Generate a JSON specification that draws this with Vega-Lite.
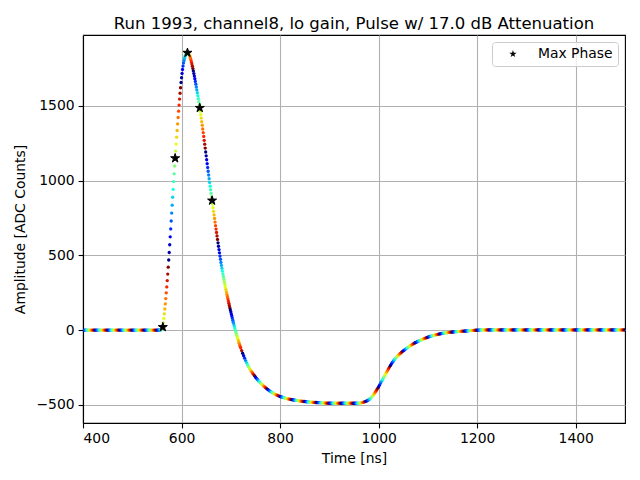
{
  "$schema": "https://vega.github.io/schema/vega-lite/v6.json",
  "width": 542,
  "height": 388,
  "autosize": {"type": "none"},
  "padding": {"left": 83, "top": 35, "right": 15, "bottom": 57},
  "title": {
    "text": "Run 1993, channel8, lo gain, Pulse w/ 17.0 dB Attenuation",
    "font": "DejaVu Sans", "fontSize": 16.5, "fontWeight": "normal", "color": "black",
    "anchor": "middle", "frame": "group", "baseline": "bottom", "offset": 5, "dy": 18
  },
  "config": {
    "font": "DejaVu Sans",
    "view": {"stroke": "black", "strokeWidth": 1.1},
    "axis": {
      "grid": true, "gridColor": "#b0b0b0", "gridWidth": 1.1, "gridOpacity": 1,
      "domainColor": "black", "domainWidth": 1.1,
      "tickColor": "black", "tickWidth": 1.1, "tickSize": 4.9,
      "labelFont": "DejaVu Sans", "labelFontSize": 13.9, "labelColor": "black", "labelPadding": 4,
      "titleFont": "DejaVu Sans", "titleFontSize": 13.9, "titleFontWeight": "normal", "titleColor": "black"
    }
  },
  "encoding": {
    "x": {"field": "t", "type": "quantitative", "title": "Time [ns]",
          "scale": {"domain": [400, 1500], "nice": false, "zero": false},
          "axis": {"values": [400, 600, 800, 1000, 1200, 1400], "format": "d", "titlePadding": 6}},
    "y": {"field": "a", "type": "quantitative", "title": "Amplitude [ADC Counts]",
          "scale": {"domain": [-622, 1975], "nice": false, "zero": false},
          "axis": {"values": [-500, 0, 500, 1000, 1500], "format": "d", "titlePadding": 8}}
  },
  "layer": [
    {
      "data": {"values": [
{"t":400,"a":0,"p":1},{"t":402,"a":0,"p":3},{"t":404,"a":0,"p":5},{"t":406,"a":0,"p":7},{"t":408,"a":0,"p":9},{"t":410,"a":0,"p":11},{"t":412,"a":0,"p":13},{"t":414,"a":0,"p":15},{"t":416,"a":0,"p":17},{"t":418,"a":0,"p":19},{"t":420,"a":0,"p":21},{"t":422,"a":0,"p":23},{"t":424,"a":0,"p":0},{"t":426,"a":0,"p":2},{"t":428,"a":0,"p":4},{"t":430,"a":0,"p":6},{"t":432,"a":0,"p":8},{"t":434,"a":0,"p":10},{"t":436,"a":0,"p":12},{"t":438,"a":0,"p":14},{"t":440,"a":0,"p":16},{"t":442,"a":0,"p":18},{"t":444,"a":0,"p":20},{"t":446,"a":0,"p":22},{"t":448,"a":0,"p":24},
{"t":450,"a":0,"p":1},{"t":452,"a":0,"p":3},{"t":454,"a":0,"p":5},{"t":456,"a":0,"p":7},{"t":458,"a":0,"p":9},{"t":460,"a":0,"p":11},{"t":462,"a":0,"p":13},{"t":464,"a":0,"p":15},{"t":466,"a":0,"p":17},{"t":468,"a":0,"p":19},{"t":470,"a":0,"p":21},{"t":472,"a":0,"p":23},{"t":474,"a":0,"p":0},{"t":476,"a":0,"p":2},{"t":478,"a":0,"p":4},{"t":480,"a":0,"p":6},{"t":482,"a":0,"p":8},{"t":484,"a":0,"p":10},{"t":486,"a":0,"p":12},{"t":488,"a":0,"p":14},{"t":490,"a":0,"p":16},{"t":492,"a":0,"p":18},{"t":494,"a":0,"p":20},{"t":496,"a":0,"p":22},{"t":498,"a":0,"p":24},
{"t":500,"a":0,"p":1},{"t":502,"a":0,"p":3},{"t":504,"a":0,"p":5},{"t":506,"a":0,"p":7},{"t":508,"a":0,"p":9},{"t":510,"a":0,"p":11},{"t":512,"a":0,"p":13},{"t":514,"a":0,"p":15},{"t":516,"a":0,"p":17},{"t":518,"a":0,"p":19},{"t":520,"a":0,"p":21},{"t":522,"a":0,"p":23},{"t":524,"a":0,"p":0},{"t":526,"a":0,"p":2},{"t":528,"a":0,"p":4},{"t":530,"a":0,"p":6},{"t":532,"a":0,"p":8},{"t":534,"a":0,"p":10},{"t":536,"a":0,"p":12},{"t":538,"a":0,"p":14},{"t":540,"a":0,"p":16},{"t":542,"a":0,"p":18},{"t":544,"a":0,"p":20},{"t":546,"a":0,"p":22},{"t":548,"a":0,"p":24},
{"t":550,"a":0,"p":1},{"t":552,"a":0,"p":3},{"t":554,"a":0,"p":5},
{"t":555,"a":0,"p":6},{"t":556,"a":1,"p":7},{"t":557,"a":1,"p":8},{"t":558,"a":2,"p":9},{"t":559,"a":4,"p":10},{"t":560,"a":7,"p":11},{"t":561,"a":12,"p":12},{"t":562,"a":20,"p":13},{"t":563,"a":48,"p":14},{"t":564,"a":78,"p":15},{"t":565,"a":109,"p":16},{"t":566,"a":141,"p":17},{"t":567,"a":175,"p":18},{"t":568,"a":211,"p":19},{"t":569,"a":249,"p":20},{"t":570,"a":289,"p":21},{"t":571,"a":331,"p":22},{"t":572,"a":375,"p":23},{"t":573,"a":421,"p":24},
{"t":574,"a":469,"p":0},{"t":575,"a":519,"p":1},{"t":576,"a":571,"p":2},{"t":577,"a":624,"p":3},{"t":578,"a":677,"p":4},{"t":579,"a":730,"p":5},{"t":580,"a":783,"p":6},{"t":581,"a":836,"p":7},{"t":582,"a":889,"p":8},{"t":583,"a":942,"p":9},{"t":584,"a":994,"p":10},{"t":585,"a":1046,"p":11},{"t":586,"a":1098,"p":12},{"t":587,"a":1150,"p":13},{"t":588,"a":1198,"p":14},{"t":589,"a":1245,"p":15},{"t":590,"a":1291,"p":16},{"t":591,"a":1336,"p":17},{"t":592,"a":1380,"p":18},{"t":593,"a":1423,"p":19},{"t":594,"a":1465,"p":20},{"t":595,"a":1506,"p":21},{"t":596,"a":1546,"p":22},{"t":597,"a":1585,"p":23},{"t":598,"a":1622,"p":24},
{"t":599,"a":1657,"p":0},{"t":600,"a":1689,"p":1},{"t":601,"a":1718,"p":2},{"t":602,"a":1744,"p":3},{"t":603,"a":1767,"p":4},{"t":604,"a":1787,"p":5},{"t":605,"a":1804,"p":6},{"t":606,"a":1818,"p":7},{"t":607,"a":1830,"p":8},{"t":608,"a":1840,"p":9},{"t":609,"a":1847,"p":10},{"t":610,"a":1852,"p":11},{"t":611,"a":1855,"p":12},{"t":612,"a":1856,"p":13},{"t":613,"a":1855,"p":14},{"t":614,"a":1852,"p":15},{"t":615,"a":1847,"p":16},{"t":616,"a":1840,"p":17},{"t":617,"a":1831,"p":18},{"t":618,"a":1820,"p":19},{"t":619,"a":1808,"p":20},{"t":620,"a":1795,"p":21},{"t":621,"a":1781,"p":22},{"t":622,"a":1766,"p":23},{"t":623,"a":1750,"p":24},
{"t":624,"a":1734,"p":0},{"t":625,"a":1717,"p":1},{"t":626,"a":1700,"p":2},{"t":627,"a":1682,"p":3},{"t":628,"a":1664,"p":4},{"t":629,"a":1646,"p":5},{"t":630,"a":1627,"p":6},{"t":631,"a":1608,"p":7},{"t":632,"a":1589,"p":8},{"t":633,"a":1569,"p":9},{"t":634,"a":1549,"p":10},{"t":635,"a":1529,"p":11},{"t":636,"a":1508,"p":12},{"t":637,"a":1487,"p":13},{"t":638,"a":1465,"p":14},{"t":639,"a":1442,"p":15},{"t":640,"a":1419,"p":16},{"t":641,"a":1395,"p":17},{"t":642,"a":1371,"p":18},{"t":643,"a":1346,"p":19},{"t":644,"a":1321,"p":20},{"t":645,"a":1296,"p":21},{"t":646,"a":1270,"p":22},{"t":647,"a":1244,"p":23},{"t":648,"a":1218,"p":24},
{"t":649,"a":1192,"p":0},{"t":650,"a":1166,"p":1},{"t":651,"a":1140,"p":2},{"t":652,"a":1114,"p":3},{"t":653,"a":1088,"p":4},{"t":654,"a":1063,"p":5},{"t":655,"a":1038,"p":6},{"t":656,"a":1013,"p":7},{"t":657,"a":988,"p":8},{"t":658,"a":963,"p":9},{"t":659,"a":939,"p":10},{"t":660,"a":915,"p":11},{"t":661,"a":891,"p":12},{"t":662,"a":867,"p":13},{"t":663,"a":843,"p":14},{"t":664,"a":819,"p":15},{"t":665,"a":795,"p":16},{"t":666,"a":771,"p":17},{"t":667,"a":747,"p":18},{"t":668,"a":723,"p":19},{"t":669,"a":699,"p":20},{"t":670,"a":676,"p":21},{"t":671,"a":653,"p":22},{"t":672,"a":630,"p":23},{"t":673,"a":607,"p":24},
{"t":674,"a":584,"p":0},{"t":675,"a":561,"p":1},{"t":676,"a":539,"p":2},{"t":677,"a":517,"p":3},{"t":678,"a":495,"p":4},{"t":679,"a":474,"p":5},{"t":680,"a":453,"p":6},{"t":681,"a":433,"p":7},{"t":682,"a":413,"p":8},{"t":683,"a":394,"p":9},{"t":684,"a":375,"p":10},{"t":685,"a":357,"p":11},{"t":686,"a":339,"p":12},{"t":687,"a":322,"p":13},{"t":688,"a":305,"p":14},{"t":689,"a":288,"p":15},{"t":690,"a":272,"p":16},{"t":691,"a":256,"p":17},{"t":692,"a":240,"p":18},{"t":693,"a":225,"p":19},{"t":694,"a":210,"p":20},{"t":695,"a":195,"p":21},{"t":696,"a":180,"p":22},{"t":697,"a":165,"p":23},{"t":698,"a":150,"p":24},
{"t":699,"a":136,"p":0},{"t":700,"a":122,"p":1},{"t":701,"a":108,"p":2},{"t":702,"a":94,"p":3},{"t":703,"a":80,"p":4},{"t":704,"a":66,"p":5},{"t":705,"a":53,"p":6},{"t":706,"a":40,"p":7},{"t":707,"a":27,"p":8},{"t":708,"a":14,"p":9},{"t":709,"a":1,"p":10},{"t":710,"a":-11,"p":11},{"t":711,"a":-23,"p":12},{"t":712,"a":-34,"p":13},{"t":713,"a":-45,"p":14},{"t":714,"a":-56,"p":15},{"t":715,"a":-67,"p":16},{"t":716,"a":-78,"p":17},{"t":717,"a":-89,"p":18},{"t":718,"a":-99,"p":19},{"t":719,"a":-109,"p":20},{"t":720,"a":-119,"p":21},
{"t":722,"a":-137,"p":23},{"t":724,"a":-155,"p":0},{"t":726,"a":-172,"p":2},{"t":728,"a":-188,"p":4},{"t":730,"a":-204,"p":6},{"t":732,"a":-218,"p":8},{"t":734,"a":-232,"p":10},{"t":736,"a":-245,"p":12},{"t":738,"a":-257,"p":14},{"t":740,"a":-268,"p":16},{"t":742,"a":-278,"p":18},{"t":744,"a":-287,"p":20},{"t":746,"a":-296,"p":22},{"t":748,"a":-305,"p":24},
{"t":750,"a":-314,"p":1},{"t":752,"a":-323,"p":3},{"t":754,"a":-331,"p":5},{"t":756,"a":-339,"p":7},{"t":758,"a":-346,"p":9},{"t":760,"a":-353,"p":11},{"t":762,"a":-360,"p":13},{"t":764,"a":-366,"p":15},{"t":766,"a":-372,"p":17},{"t":768,"a":-378,"p":19},{"t":770,"a":-384,"p":21},{"t":772,"a":-390,"p":23},{"t":774,"a":-395,"p":0},{"t":776,"a":-400,"p":2},{"t":778,"a":-405,"p":4},{"t":780,"a":-410,"p":6},{"t":782,"a":-414,"p":8},{"t":784,"a":-418,"p":10},{"t":786,"a":-422,"p":12},{"t":788,"a":-426,"p":14},{"t":790,"a":-430,"p":16},{"t":792,"a":-433,"p":18},{"t":794,"a":-436,"p":20},{"t":796,"a":-439,"p":22},{"t":798,"a":-442,"p":24},
{"t":800,"a":-445,"p":1},{"t":802,"a":-447,"p":3},{"t":804,"a":-449,"p":5},{"t":806,"a":-451,"p":7},{"t":808,"a":-453,"p":9},{"t":810,"a":-455,"p":11},{"t":812,"a":-457,"p":13},{"t":814,"a":-459,"p":15},{"t":816,"a":-461,"p":17},{"t":818,"a":-462,"p":19},{"t":820,"a":-463,"p":21},{"t":822,"a":-465,"p":23},{"t":824,"a":-466,"p":0},{"t":826,"a":-467,"p":2},{"t":828,"a":-468,"p":4},{"t":830,"a":-469,"p":6},{"t":832,"a":-470,"p":8},{"t":834,"a":-471,"p":10},{"t":836,"a":-472,"p":12},{"t":838,"a":-473,"p":14},{"t":840,"a":-474,"p":16},{"t":842,"a":-475,"p":18},{"t":844,"a":-476,"p":20},{"t":846,"a":-477,"p":22},{"t":848,"a":-478,"p":24},
{"t":850,"a":-478,"p":1},{"t":852,"a":-479,"p":3},{"t":854,"a":-480,"p":5},{"t":856,"a":-480,"p":7},{"t":858,"a":-481,"p":9},{"t":860,"a":-482,"p":11},{"t":862,"a":-482,"p":13},{"t":864,"a":-483,"p":15},{"t":866,"a":-483,"p":17},{"t":868,"a":-484,"p":19},{"t":870,"a":-484,"p":21},{"t":872,"a":-485,"p":23},{"t":874,"a":-485,"p":0},{"t":876,"a":-486,"p":2},{"t":878,"a":-486,"p":4},{"t":880,"a":-486,"p":6},{"t":882,"a":-487,"p":8},{"t":884,"a":-487,"p":10},{"t":886,"a":-487,"p":12},{"t":888,"a":-488,"p":14},{"t":890,"a":-488,"p":16},{"t":892,"a":-488,"p":18},{"t":894,"a":-489,"p":20},{"t":896,"a":-489,"p":22},{"t":898,"a":-489,"p":24},
{"t":900,"a":-489,"p":1},{"t":902,"a":-490,"p":3},{"t":904,"a":-490,"p":5},{"t":906,"a":-490,"p":7},{"t":908,"a":-490,"p":9},{"t":910,"a":-490,"p":11},{"t":912,"a":-490,"p":13},{"t":914,"a":-490,"p":15},{"t":916,"a":-490,"p":17},{"t":918,"a":-490,"p":19},{"t":920,"a":-490,"p":21},{"t":922,"a":-490,"p":23},{"t":924,"a":-490,"p":0},{"t":926,"a":-490,"p":2},{"t":928,"a":-490,"p":4},{"t":930,"a":-490,"p":6},{"t":932,"a":-490,"p":8},{"t":934,"a":-490,"p":10},{"t":936,"a":-490,"p":12},{"t":938,"a":-490,"p":14},{"t":940,"a":-490,"p":16},{"t":942,"a":-490,"p":18},{"t":944,"a":-490,"p":20},{"t":946,"a":-490,"p":22},{"t":948,"a":-490,"p":24},
{"t":950,"a":-490,"p":1},{"t":952,"a":-490,"p":3},{"t":954,"a":-490,"p":5},{"t":956,"a":-490,"p":7},{"t":958,"a":-489,"p":9},{"t":960,"a":-489,"p":11},{"t":962,"a":-488,"p":13},{"t":964,"a":-487,"p":15},{"t":966,"a":-486,"p":17},{"t":968,"a":-484,"p":19},{"t":970,"a":-482,"p":21},{"t":972,"a":-479,"p":23},{"t":974,"a":-477,"p":0},{"t":976,"a":-474,"p":2},{"t":978,"a":-470,"p":4},{"t":980,"a":-466,"p":6},{"t":982,"a":-461,"p":8},{"t":984,"a":-455,"p":10},{"t":986,"a":-448,"p":12},{"t":988,"a":-440,"p":14},{"t":990,"a":-431,"p":16},{"t":992,"a":-421,"p":18},{"t":994,"a":-411,"p":20},{"t":996,"a":-401,"p":22},{"t":998,"a":-390,"p":24},
{"t":1000,"a":-379,"p":1},{"t":1002,"a":-367,"p":3},{"t":1004,"a":-355,"p":5},{"t":1006,"a":-343,"p":7},{"t":1008,"a":-331,"p":9},{"t":1010,"a":-319,"p":11},{"t":1012,"a":-307,"p":13},{"t":1014,"a":-295,"p":15},{"t":1016,"a":-283,"p":17},{"t":1018,"a":-271,"p":19},{"t":1020,"a":-259,"p":21},{"t":1022,"a":-248,"p":23},{"t":1024,"a":-237,"p":0},{"t":1026,"a":-226,"p":2},{"t":1028,"a":-216,"p":4},{"t":1030,"a":-207,"p":6},{"t":1032,"a":-198,"p":8},{"t":1034,"a":-190,"p":10},{"t":1036,"a":-182,"p":12},{"t":1038,"a":-175,"p":14},{"t":1040,"a":-168,"p":16},{"t":1042,"a":-162,"p":18},{"t":1044,"a":-156,"p":20},{"t":1046,"a":-150,"p":22},{"t":1048,"a":-144,"p":24},
{"t":1050,"a":-139,"p":1},{"t":1052,"a":-134,"p":3},{"t":1054,"a":-129,"p":5},{"t":1056,"a":-124,"p":7},{"t":1058,"a":-119,"p":9},{"t":1060,"a":-114,"p":11},{"t":1062,"a":-110,"p":13},{"t":1064,"a":-105,"p":15},{"t":1066,"a":-101,"p":17},{"t":1068,"a":-97,"p":19},{"t":1070,"a":-93,"p":21},{"t":1072,"a":-89,"p":23},{"t":1074,"a":-85,"p":0},{"t":1076,"a":-82,"p":2},{"t":1078,"a":-78,"p":4},{"t":1080,"a":-75,"p":6},{"t":1082,"a":-72,"p":8},{"t":1084,"a":-69,"p":10},{"t":1086,"a":-66,"p":12},{"t":1088,"a":-63,"p":14},{"t":1090,"a":-60,"p":16},{"t":1092,"a":-57,"p":18},{"t":1094,"a":-55,"p":20},{"t":1096,"a":-52,"p":22},{"t":1098,"a":-50,"p":24},
{"t":1100,"a":-47,"p":1},{"t":1102,"a":-45,"p":3},{"t":1104,"a":-43,"p":5},{"t":1106,"a":-41,"p":7},{"t":1108,"a":-39,"p":9},{"t":1110,"a":-37,"p":11},{"t":1112,"a":-35,"p":13},{"t":1114,"a":-33,"p":15},{"t":1116,"a":-32,"p":17},{"t":1118,"a":-30,"p":19},{"t":1120,"a":-29,"p":21},{"t":1122,"a":-27,"p":23},{"t":1124,"a":-26,"p":0},{"t":1126,"a":-24,"p":2},{"t":1128,"a":-23,"p":4},{"t":1130,"a":-22,"p":6},{"t":1132,"a":-21,"p":8},{"t":1134,"a":-20,"p":10},{"t":1136,"a":-19,"p":12},{"t":1138,"a":-18,"p":14},{"t":1140,"a":-17,"p":16},{"t":1142,"a":-16,"p":18},{"t":1144,"a":-15,"p":20},{"t":1146,"a":-14,"p":22},{"t":1148,"a":-14,"p":24},
{"t":1150,"a":-13,"p":1},{"t":1152,"a":-12,"p":3},{"t":1154,"a":-12,"p":5},{"t":1156,"a":-11,"p":7},{"t":1158,"a":-11,"p":9},{"t":1160,"a":-10,"p":11},{"t":1162,"a":-10,"p":13},{"t":1164,"a":-9,"p":15},{"t":1166,"a":-9,"p":17},{"t":1168,"a":-8,"p":19},{"t":1170,"a":-8,"p":21},{"t":1172,"a":-7,"p":23},{"t":1174,"a":-7,"p":0},{"t":1176,"a":-6,"p":2},{"t":1178,"a":-6,"p":4},{"t":1180,"a":-5,"p":6},{"t":1182,"a":-5,"p":8},{"t":1184,"a":-4,"p":10},{"t":1186,"a":-4,"p":12},{"t":1188,"a":-3,"p":14},{"t":1190,"a":-3,"p":16},{"t":1192,"a":-2,"p":18},{"t":1194,"a":-2,"p":20},{"t":1196,"a":-1,"p":22},{"t":1198,"a":-1,"p":24},
{"t":1200,"a":0,"p":1},{"t":1202,"a":0,"p":3},{"t":1204,"a":0,"p":5},{"t":1206,"a":1,"p":7},{"t":1208,"a":1,"p":9},{"t":1210,"a":1,"p":11},{"t":1212,"a":1,"p":13},{"t":1214,"a":1,"p":15},{"t":1216,"a":1,"p":17},{"t":1218,"a":1,"p":19},{"t":1220,"a":1,"p":21},{"t":1222,"a":1,"p":23},{"t":1224,"a":1,"p":0},{"t":1226,"a":1,"p":2},{"t":1228,"a":1,"p":4},{"t":1230,"a":1,"p":6},{"t":1232,"a":1,"p":8},{"t":1234,"a":1,"p":10},{"t":1236,"a":1,"p":12},{"t":1238,"a":1,"p":14},{"t":1240,"a":1,"p":16},{"t":1242,"a":1,"p":18},{"t":1244,"a":1,"p":20},{"t":1246,"a":1,"p":22},{"t":1248,"a":1,"p":24},
{"t":1250,"a":1,"p":1},{"t":1252,"a":1,"p":3},{"t":1254,"a":1,"p":5},{"t":1256,"a":1,"p":7},{"t":1258,"a":1,"p":9},{"t":1260,"a":1,"p":11},{"t":1262,"a":1,"p":13},{"t":1264,"a":1,"p":15},{"t":1266,"a":1,"p":17},{"t":1268,"a":1,"p":19},{"t":1270,"a":1,"p":21},{"t":1272,"a":1,"p":23},{"t":1274,"a":1,"p":0},{"t":1276,"a":1,"p":2},{"t":1278,"a":1,"p":4},{"t":1280,"a":1,"p":6},{"t":1282,"a":1,"p":8},{"t":1284,"a":1,"p":10},{"t":1286,"a":1,"p":12},{"t":1288,"a":1,"p":14},{"t":1290,"a":1,"p":16},{"t":1292,"a":1,"p":18},{"t":1294,"a":1,"p":20},{"t":1296,"a":1,"p":22},{"t":1298,"a":1,"p":24},
{"t":1300,"a":1,"p":1},{"t":1302,"a":1,"p":3},{"t":1304,"a":1,"p":5},{"t":1306,"a":1,"p":7},{"t":1308,"a":1,"p":9},{"t":1310,"a":1,"p":11},{"t":1312,"a":1,"p":13},{"t":1314,"a":1,"p":15},{"t":1316,"a":1,"p":17},{"t":1318,"a":1,"p":19},{"t":1320,"a":1,"p":21},{"t":1322,"a":1,"p":23},{"t":1324,"a":1,"p":0},{"t":1326,"a":1,"p":2},{"t":1328,"a":1,"p":4},{"t":1330,"a":1,"p":6},{"t":1332,"a":1,"p":8},{"t":1334,"a":1,"p":10},{"t":1336,"a":1,"p":12},{"t":1338,"a":1,"p":14},{"t":1340,"a":1,"p":16},{"t":1342,"a":1,"p":18},{"t":1344,"a":1,"p":20},{"t":1346,"a":1,"p":22},{"t":1348,"a":1,"p":24},
{"t":1350,"a":1,"p":1},{"t":1352,"a":1,"p":3},{"t":1354,"a":1,"p":5},{"t":1356,"a":1,"p":7},{"t":1358,"a":1,"p":9},{"t":1360,"a":1,"p":11},{"t":1362,"a":1,"p":13},{"t":1364,"a":1,"p":15},{"t":1366,"a":1,"p":17},{"t":1368,"a":1,"p":19},{"t":1370,"a":1,"p":21},{"t":1372,"a":1,"p":23},{"t":1374,"a":1,"p":0},{"t":1376,"a":1,"p":2},{"t":1378,"a":1,"p":4},{"t":1380,"a":1,"p":6},{"t":1382,"a":1,"p":8},{"t":1384,"a":1,"p":10},{"t":1386,"a":1,"p":12},{"t":1388,"a":1,"p":14},{"t":1390,"a":1,"p":16},{"t":1392,"a":1,"p":18},{"t":1394,"a":1,"p":20},{"t":1396,"a":1,"p":22},{"t":1398,"a":1,"p":24},
{"t":1400,"a":1,"p":1},{"t":1402,"a":1,"p":3},{"t":1404,"a":1,"p":5},{"t":1406,"a":1,"p":7},{"t":1408,"a":1,"p":9},{"t":1410,"a":1,"p":11},{"t":1412,"a":1,"p":13},{"t":1414,"a":1,"p":15},{"t":1416,"a":1,"p":17},{"t":1418,"a":1,"p":19},{"t":1420,"a":1,"p":21},{"t":1422,"a":1,"p":23},{"t":1424,"a":1,"p":0},{"t":1426,"a":1,"p":2},{"t":1428,"a":1,"p":4},{"t":1430,"a":1,"p":6},{"t":1432,"a":1,"p":8},{"t":1434,"a":1,"p":10},{"t":1436,"a":1,"p":12},{"t":1438,"a":1,"p":14},{"t":1440,"a":1,"p":16},{"t":1442,"a":1,"p":18},{"t":1444,"a":1,"p":20},{"t":1446,"a":1,"p":22},{"t":1448,"a":1,"p":24},
{"t":1450,"a":1,"p":1},{"t":1452,"a":1,"p":3},{"t":1454,"a":1,"p":5},{"t":1456,"a":1,"p":7},{"t":1458,"a":1,"p":9},{"t":1460,"a":1,"p":11},{"t":1462,"a":1,"p":13},{"t":1464,"a":1,"p":15},{"t":1466,"a":1,"p":17},{"t":1468,"a":1,"p":19},{"t":1470,"a":1,"p":21},{"t":1472,"a":1,"p":23},{"t":1474,"a":1,"p":0},{"t":1476,"a":1,"p":2},{"t":1478,"a":1,"p":4},{"t":1480,"a":1,"p":6},{"t":1482,"a":1,"p":8},{"t":1484,"a":1,"p":10},{"t":1486,"a":1,"p":12},{"t":1488,"a":1,"p":14},{"t":1490,"a":1,"p":16},{"t":1492,"a":1,"p":18},{"t":1494,"a":1,"p":20},{"t":1496,"a":1,"p":22},{"t":1498,"a":1,"p":24},
{"t":1500,"a":1,"p":1}
      ]},
      "mark": {"type": "circle", "size": 11, "opacity": 1, "clip": true},
      "encoding": {
        "color": {"field": "p", "type": "quantitative", "legend": null,
                  "scale": {"domain": [0, 3, 6, 9, 12, 15, 18, 21, 24],
                            "range": ["#000080", "#0000ff", "#0080ff", "#15ffe2", "#7bff7b", "#e2ff15", "#ff9700", "#ff2100", "#800000"],
                            "interpolate": "rgb"}}
      }
    },
    {
      "data": {"values": [
        {"t": 562, "a": 20},
        {"t": 587, "a": 1150},
        {"t": 612, "a": 1856},
        {"t": 637, "a": 1487},
        {"t": 662, "a": 867}
      ]},
      "mark": {"type": "point", "filled": true, "color": "black", "stroke": "black", "strokeWidth": 1, "size": 90, "opacity": 1, "clip": true},
      "encoding": {
        "shape": {"datum": "Max Phase", "type": "nominal",
                  "scale": {"range": ["M0,-1L0.2245,-0.309L0.951,-0.309L0.363,0.118L0.588,0.809L0,0.382L-0.588,0.809L-0.363,0.118L-0.951,-0.309L-0.2245,-0.309Z"]},
                  "legend": {"title": null, "orient": "top-right", "offset": 7,
                             "fillColor": "rgba(255,255,255,0.8)", "strokeColor": "#cccccc", "cornerRadius": 3,
                             "padding": 5, "labelFont": "DejaVu Sans", "labelFontSize": 13.9, "labelColor": "black",
                             "symbolSize": 60, "symbolFillColor": "black", "symbolStrokeColor": "black", "symbolStrokeWidth": 1,
                             "symbolOffset": 9, "labelOffset": 18}}
      }
    }
  ]
}
